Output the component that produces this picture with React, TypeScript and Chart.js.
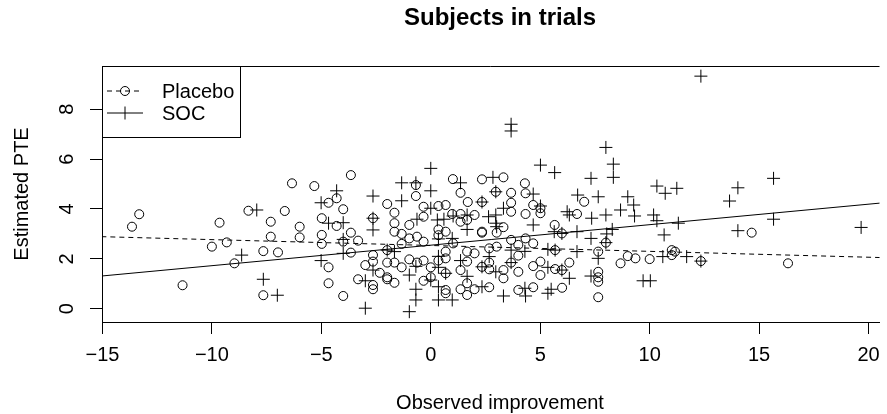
import React, { useEffect, useRef } from "react";
import { Chart, registerables } from "chart.js";
Chart.register(...registerables);

const placeboX = [-6.34,-5.32,-3.65,-0.68,1.01,1.36,2.34,3.32,4.30,14.66,11.16,12.34,16.32,-13.65,-13.32,-11.34,-9.65,-10.0,-9.32,-8.97,-8.33,-7.31,-7.31,-6.67,-7.65,-6.98,-7.65,-0.68,-4.67,-4.30,-4.00,-1.99,-1.66,-0.33,0.35,0.68,1.69,2.34,-0.33,0.98,1.36,2.00,1.36,1.66,2.34,-4.98,-4.30,-5.99,-5.99,-4.98,-4.98,-3.65,-4.00,-3.32,-3.65,-2.64,-1.66,-1.66,-1.33,-0.98,-0.98,-0.63,-0.33,-1.33,-1.99,-2.64,-2.64,-2.99,-2.33,-1.99,-1.99,-1.66,-3.32,-2.64,-2.64,-4.00,-4.67,-4.67,-1.99,-1.66,-1.33,-0.98,-0.63,-0.33,-0.33,0.00,0.68,0.68,0.35,0.68,0.00,0.68,0.68,1.36,1.66,1.36,2.00,1.66,1.66,2.00,1.66,1.02,0.68,0.35,0.35,2.97,3.67,4.33,7.01,3.67,3.67,4.68,5.01,5.01,4.33,6.68,5.99,5.66,8.00,7.65,8.67,9.00,9.35,10.00,11.01,11.01,7.65,7.65,7.65,7.65,6.33,6.00,4.68,4.00,2.67,4.00,4.68,5.01,5.01,5.68,5.99,3.67,3.32,3.32,2.67,2.67,2.34,4.00,4.00,3.67,4.33,4.68,3.01,2.67,5.68,2.34,3.01,3.32];
const placeboY = [5.03,4.92,5.36,4.96,5.20,4.65,5.19,5.27,5.03,3.05,2.29,1.91,1.82,3.29,3.79,0.94,3.45,2.49,2.66,1.82,3.93,3.49,2.89,3.92,2.31,2.26,0.54,4.52,4.25,4.43,3.99,4.20,3.85,4.09,4.12,4.16,4.28,4.28,3.69,3.80,3.80,3.76,3.49,3.56,3.09,3.63,3.32,3.29,2.86,2.96,2.60,3.05,2.69,2.73,2.25,3.63,3.43,3.09,3.00,3.36,2.82,2.89,2.69,2.60,2.35,2.15,1.89,1.75,1.44,1.26,1.18,1.04,1.18,0.95,0.78,0.51,1.02,1.66,1.85,1.85,1.66,1.98,1.85,1.93,1.12,1.66,2.02,2.29,1.93,1.42,1.26,0.75,0.62,1.55,1.02,0.78,0.78,0.55,1.89,2.22,2.29,2.62,3.09,3.18,2.95,4.69,4.65,4.63,4.29,4.25,3.89,4.16,4.03,3.83,3.80,3.80,3.02,3.36,2.65,2.29,1.82,2.11,2.02,1.99,2.35,2.15,1.48,1.26,1.08,0.46,1.85,0.84,0.86,0.75,0.86,1.48,1.71,1.35,1.89,1.59,1.55,1.85,1.55,1.22,1.85,1.58,1.68,2.13,2.56,2.76,2.82,2.62,2.49,2.42,2.35,3.05,3.05,3.27];

const socX = [-4.30,-2.64,-1.33,-0.68,0.00,0.00,1.36,2.84,3.67,3.67,5.01,5.66,7.32,8.00,8.34,8.34,10.33,11.24,12.34,15.66,14.03,13.65,11.31,15.66,14.03,19.66,11.69,12.34,-8.64,-7.95,-7.65,-7.01,-5.01,-1.33,0.00,2.34,-0.63,0.30,1.02,1.66,1.66,-4.67,-4.00,-4.00,-4.00,-2.64,-2.64,-1.99,-1.66,-2.64,-2.99,-5.01,-2.99,-0.98,-0.68,-0.98,-0.68,-0.68,0.35,0.35,0.68,0.00,0.35,0.35,0.98,1.66,2.34,2.34,1.36,0.98,0.35,2.97,4.68,6.71,7.65,9.00,10.71,9.27,3.32,5.01,6.23,6.33,7.35,8.00,8.67,9.31,10.18,10.33,10.66,8.29,8.04,7.32,6.68,5.99,5.64,8.00,7.65,6.68,10.60,7.32,9.70,10.03,6.33,5.50,5.35,4.30,4.33,3.32,5.99,5.35,3.67,2.97,2.67,3.67,5.35,5.68,3.01,2.64,2.97,2.97,4.68,4.30,0.60];
const socY = [4.73,4.52,5.05,5.05,5.63,4.73,5.05,5.27,7.40,7.13,5.76,5.46,5.23,6.47,5.80,5.27,4.92,4.83,9.33,5.23,4.85,4.32,3.43,3.59,3.13,3.26,2.09,1.91,2.15,3.96,1.18,0.54,4.25,4.33,4.03,4.28,3.59,3.56,3.72,3.76,3.18,3.43,3.45,2.78,2.22,3.63,3.16,2.35,2.29,1.55,1.12,1.93,0.02,-0.12,1.70,1.35,0.78,0.35,1.66,2.10,1.42,1.15,0.88,0.35,0.35,1.30,0.88,1.68,1.93,2.82,2.80,4.69,4.60,4.56,4.49,4.49,4.63,4.16,4.03,4.12,3.89,3.76,3.63,3.76,3.96,3.72,3.76,3.53,2.96,3.18,3.00,2.82,3.09,3.02,3.09,2.65,2.02,2.29,2.09,1.31,1.12,1.12,1.22,0.78,0.62,0.82,0.51,0.51,1.55,1.66,1.85,1.48,2.09,2.35,2.38,2.35,3.29,3.69,3.76,3.43,3.36,2.30,3.59];

const fitX = [-15.05, 21.05];
const placeboFitY = [2.89, 2.04];
const socFitY = [1.31, 4.28];

const xTicks = [-15, -10, -5, 0, 5, 10, 15, 20];
const xTickLabels = ["\u221215", "\u221210", "\u22125", "0", "5", "10", "15", "20"];
const yTicks = [0, 2, 4, 6, 8];
const yTickLabels = ["0", "2", "4", "6", "8"];

const titleText = "Subjects in trials";
const xTitle = "Observed improvement";
const yTitle = "Estimated PTE";
const legendLabels = ["Placebo", "SOC"];

const FONT = "'Liberation Sans', Arial, Helvetica, sans-serif";

const overlay = {
  id: "overlay",
  afterDraw(chart: any) {
    const ctx = chart.ctx as CanvasRenderingContext2D;
    const a = chart.chartArea;
    const xs = chart.scales.x;
    const ys = chart.scales.y;
    ctx.save();
    ctx.strokeStyle = "#000";
    ctx.lineWidth = 1;
    ctx.setLineDash([]);
    // top border of box
    ctx.beginPath();
    ctx.moveTo(a.left, a.top + 0.5);
    ctx.lineTo(a.right, a.top + 0.5);
    ctx.stroke();

    ctx.fillStyle = "#000";
    ctx.font = `20px ${FONT}`;
    // x tick labels
    ctx.textAlign = "center";
    ctx.textBaseline = "alphabetic";
    xTicks.forEach((v, i) => {
      ctx.fillText(xTickLabels[i], xs.getPixelForValue(v), 361);
    });
    // y tick labels (rotated)
    yTicks.forEach((v, i) => {
      ctx.save();
      ctx.translate(73, ys.getPixelForValue(v));
      ctx.rotate(-Math.PI / 2);
      ctx.fillText(yTickLabels[i], 0, 0);
      ctx.restore();
    });
    // axis titles
    ctx.fillText(xTitle, 500, 409);
    ctx.save();
    ctx.translate(28, (a.top + a.bottom) / 2);
    ctx.rotate(-Math.PI / 2);
    ctx.fillText(yTitle, 0, 0);
    ctx.restore();
    // main title
    ctx.font = `bold 24px ${FONT}`;
    ctx.fillText(titleText, 500, 25);

    // legend
    const lx0 = a.left + 0.5, ly0 = a.top + 0.5, lx1 = 240.5, ly1 = 137.5;
    ctx.fillStyle = "#fff";
    ctx.fillRect(lx0, ly0, lx1 - lx0, ly1 - ly0);
    ctx.strokeRect(lx0, ly0, lx1 - lx0, ly1 - ly0);
    const rows = [91, 113];
    // placebo sample
    ctx.beginPath();
    ctx.setLineDash([5, 4]);
    ctx.moveTo(107, rows[0]);
    ctx.lineTo(142, rows[0]);
    ctx.stroke();
    ctx.setLineDash([]);
    ctx.beginPath();
    ctx.arc(125, rows[0], 4.5, 0, Math.PI * 2);
    ctx.stroke();
    // soc sample
    ctx.beginPath();
    ctx.moveTo(107, rows[1]);
    ctx.lineTo(143, rows[1]);
    ctx.moveTo(125, rows[1] - 6.5);
    ctx.lineTo(125, rows[1] + 6.5);
    ctx.stroke();
    ctx.fillStyle = "#000";
    ctx.font = `20px ${FONT}`;
    ctx.textAlign = "left";
    ctx.fillText(legendLabels[0], 162, rows[0] + 7);
    ctx.fillText(legendLabels[1], 162, rows[1] + 7);
    ctx.restore();
  },
};

export default function App() {
  const ref = useRef<HTMLCanvasElement>(null);
  useEffect(() => {
    if (!ref.current) return;
    const chart = new Chart(ref.current, {
      type: "scatter",
      data: {
        datasets: [
          {
            label: "Placebo",
            data: placeboX.map((x, i) => ({ x, y: placeboY[i] })),
            pointStyle: "circle",
            pointRadius: 4.5,
            borderColor: "#000",
            backgroundColor: "rgba(0,0,0,0)",
            borderWidth: 1,
          },
          {
            label: "SOC",
            data: socX.map((x, i) => ({ x, y: socY[i] })),
            pointStyle: "cross",
            pointRadius: 6.5,
            borderColor: "#000",
            backgroundColor: "rgba(0,0,0,0)",
            borderWidth: 1,
          },
          {
            type: "line",
            label: "Placebo fit",
            data: fitX.map((x, i) => ({ x, y: placeboFitY[i] })),
            borderColor: "#000",
            borderWidth: 1,
            borderDash: [5, 4],
            pointRadius: 0,
            fill: false,
          },
          {
            type: "line",
            label: "SOC fit",
            data: fitX.map((x, i) => ({ x, y: socFitY[i] })),
            borderColor: "#000",
            borderWidth: 1,
            pointRadius: 0,
            fill: false,
          },
        ] as any,
      },
      options: {
        animation: false,
        responsive: false,
        devicePixelRatio: 1,
        layout: { padding: { top: 66, left: 0, right: 0, bottom: 0 } },
        plugins: { legend: { display: false }, tooltip: { enabled: false }, title: { display: false } },
        scales: {
          x: {
            type: "linear",
            min: -15.02,
            max: 20.5,
            afterBuildTicks: (s: any) => {
              s.ticks = xTicks.map((v) => ({ value: v }));
            },
            afterFit: (s: any) => {
              s.height = 92;
            },
            ticks: { display: false },
            grid: { drawOnChartArea: false, drawTicks: true, tickLength: 12, color: "#000", lineWidth: 1 },
            border: { display: true, color: "#000", width: 1 },
          },
          y: {
            type: "linear",
            min: -0.534,
            max: 9.737,
            afterBuildTicks: (s: any) => {
              s.ticks = yTicks.map((v) => ({ value: v }));
            },
            afterFit: (s: any) => {
              s.width = 102;
            },
            ticks: { display: false },
            grid: { drawOnChartArea: false, drawTicks: true, tickLength: 12, color: "#000", lineWidth: 1 },
            border: { display: true, color: "#000", width: 1 },
          },
        },
      } as any,
      plugins: [overlay],
    });
    return () => chart.destroy();
  }, []);
  return (
    <div style={{ position: "absolute", left: 0, top: 0, width: 887, height: 414, background: "#fff" }}>
      <canvas ref={ref} width={887} height={414} style={{ display: "block" }} />
    </div>
  );
}
